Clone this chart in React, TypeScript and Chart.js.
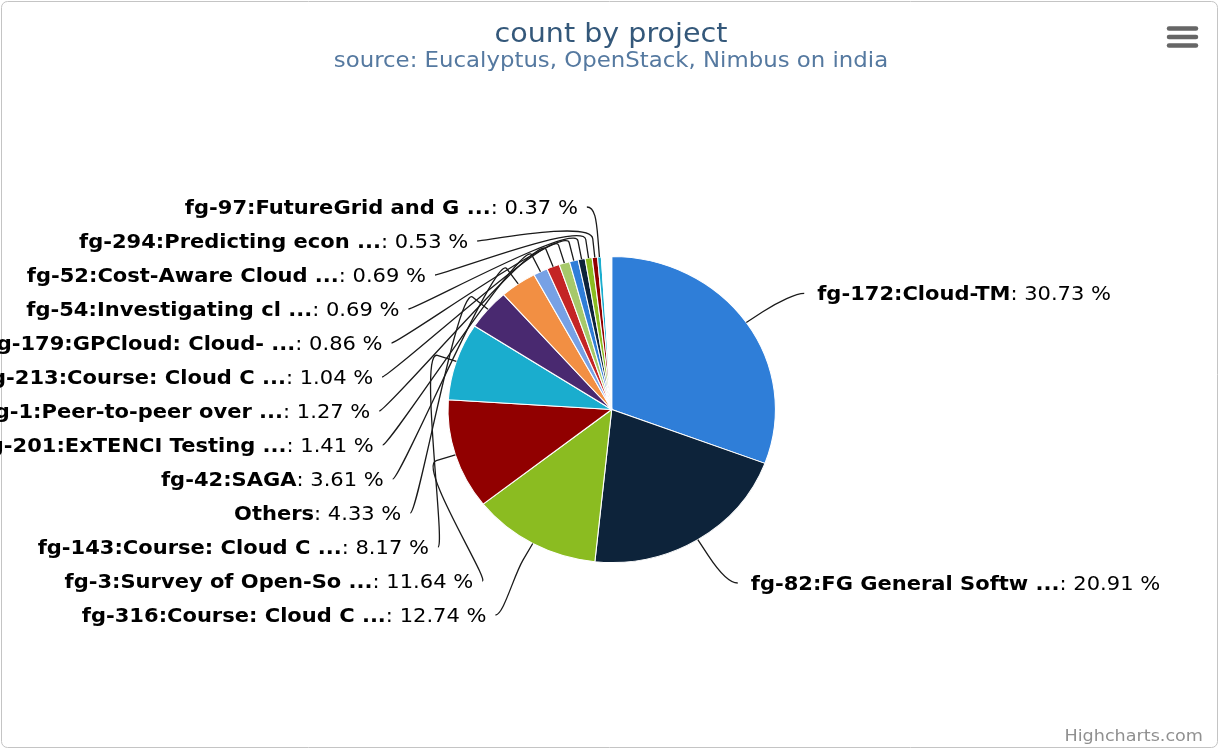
import React, { useEffect, useRef } from 'react';
import { Chart, registerables } from 'chart.js';

Chart.register(...registerables);

// ---------- data ----------
const projectNames: string[] = [
  'fg-172:Cloud-TM',
  'fg-82:FG General Softw ...',
  'fg-316:Course: Cloud C ...',
  'fg-3:Survey of Open-So ...',
  'fg-143:Course: Cloud C ...',
  'Others',
  'fg-42:SAGA',
  'fg-201:ExTENCI Testing ...',
  'fg-1:Peer-to-peer over ...',
  'fg-213:Course: Cloud C ...',
  'fg-179:GPCloud: Cloud- ...',
  'fg-54:Investigating cl ...',
  'fg-52:Cost-Aware Cloud ...',
  'fg-294:Predicting econ ...',
  'fg-97:FutureGrid and G ...',
];
const projectShares: number[] = [
  30.73, 20.91, 12.74, 11.64, 8.17, 4.33, 3.61, 1.41, 1.27, 1.04, 0.86, 0.69, 0.69, 0.53, 0.37,
];
// small unlabeled remainder visible as a white gap at the top of the pie
const unlabeledRemainder: number[] = [1.01];

const paletteColors: string[] = [
  '#2f7ed8', '#0d233a', '#8bbc21', '#910000', '#1aadce',
  '#492970', '#f28f43', '#77a1e5', '#c42525', '#a6c96a',
];
const remainderColor = '#ffffff';

const chartTitle = 'count by project';
const chartSubtitle = 'source: Eucalyptus, OpenStack, Nimbus on india';
const creditsText = 'Highcharts.com';

// ---------- styling constants ----------
const W = 1219;
const H = 749;
const PIE_CX = 611.7;
const PIE_CY = 409.5;
const PIE_R = 153;
const PIE_SX = 1.07; // horizontal stretch of the pie
const LABEL_DIST = 51;
const LABEL_SX = 1.1;
const CONNECTOR_OFFSET = 18.7;
const SLOT_GAP = 34;
const LABEL_TEXT_SX = 1.125;
const FONT = 'DejaVu Sans';
const LABEL_SIZE = 18.7;

function drawText(
  ctx: CanvasRenderingContext2D, text: string, x: number, y: number,
  font: string, color: string, align: CanvasTextAlign, sx: number
) {
  ctx.save();
  ctx.font = font;
  ctx.fillStyle = color;
  ctx.textBaseline = 'middle';
  ctx.textAlign = align;
  ctx.translate(x, y);
  ctx.scale(sx, 1);
  ctx.fillText(text, 0, 0);
  ctx.restore();
}

const decorPlugin = {
  id: 'hcDecor',
  beforeDraw(chart: any) {
    const ctx: CanvasRenderingContext2D = chart.ctx;
    ctx.save();
    ctx.fillStyle = '#ffffff';
    ctx.fillRect(0, 0, W, H);
    ctx.strokeStyle = '#c4c4c4';
    ctx.lineWidth = 1;
    ctx.beginPath();
    (ctx as any).roundRect(1.5, 1.5, W - 3, H - 3, 6);
    ctx.stroke();
    ctx.restore();
  },
  beforeDatasetsDraw(chart: any) {
    const ctx: CanvasRenderingContext2D = chart.ctx;
    const arc = chart.getDatasetMeta(0).data[0];
    ctx.save();
    ctx.translate(arc.x, arc.y);
    ctx.scale(PIE_SX, 1);
    ctx.translate(-arc.x, -arc.y);
  },
  afterDatasetsDraw(chart: any) {
    const ctx: CanvasRenderingContext2D = chart.ctx;
    ctx.restore();
    const meta = chart.getDatasetMeta(0);
    const total = (chart.data.datasets[0].data as number[]).reduce((a, b) => a + b, 0);
    type Item = { i: number; a: number; left: boolean; natY: number; y: number; cx: number; cy: number; r: number };
    const items: Item[] = [];
    meta.data.forEach((arc: any, i: number) => {
      if (i >= projectNames.length) return;
      const p = arc.getProps(['x', 'y', 'startAngle', 'endAngle', 'outerRadius'], true);
      const a = (p.startAngle + p.endAngle) / 2;
      const R = p.outerRadius + LABEL_DIST;
      items.push({
        i, a, left: Math.cos(a) < 0,
        natY: p.y + R * Math.sin(a), y: 0,
        cx: p.x, cy: p.y, r: p.outerRadius,
      });
    });
    const sides = [items.filter((d) => !d.left), items.filter((d) => d.left)];
    sides.forEach((side) => {
      if (!side.length) return;
      side.sort((u, v) => u.natY - v.natY);
      const R = side[0].r + LABEL_DIST;
      const minY = side[0].cy - R + 1.5;
      const maxY = H - 60;
      side.forEach((d, k) => {
        d.y = Math.max(d.natY, minY);
        if (k > 0) d.y = Math.max(d.y, side[k - 1].y + SLOT_GAP);
      });
      for (let k = side.length - 1; k >= 0; k--) {
        if (k === side.length - 1) side[k].y = Math.min(side[k].y, maxY);
        else side[k].y = Math.min(side[k].y, side[k + 1].y - SLOT_GAP);
      }
      side.forEach((d, k) => {
        const edge = k === 0 || k === side.length - 1;
        const yForX = edge ? d.natY : d.y;
        const Rl = d.r + LABEL_DIST;
        const dy = yForX - d.cy;
        const off = LABEL_SX * Math.sqrt(Math.max(Rl * Rl - dy * dy, 0));
        const connX = d.cx + (d.left ? -off : off);
        const y = d.y;
        const p4x = d.cx + PIE_SX * d.r * Math.cos(d.a);
        const p4y = d.cy + d.r * Math.sin(d.a);
        const p2x = d.cx + PIE_SX * (d.r + CONNECTOR_OFFSET) * Math.cos(d.a);
        const p2y = d.cy + (d.r + CONNECTOR_OFFSET) * Math.sin(d.a);
        ctx.save();
        ctx.strokeStyle = '#1a1a1a';
        ctx.lineWidth = 1.3;
        ctx.beginPath();
        ctx.moveTo(connX + (d.left ? -8 : 8), y);
        ctx.bezierCurveTo(connX, y, 2 * p2x - p4x, 2 * p2y - p4y, p2x, p2y);
        ctx.lineTo(p4x, p4y);
        ctx.stroke();
        ctx.restore();

        const name = projectNames[d.i];
        const pct = ': ' + ((projectShares[d.i] / total) * 100).toFixed(2) + ' %';
        const boldFont = `bold ${LABEL_SIZE}px "${FONT}"`;
        const normFont = `${LABEL_SIZE}px "${FONT}"`;
        ctx.save();
        ctx.font = boldFont;
        const w1 = ctx.measureText(name).width * LABEL_TEXT_SX;
        ctx.font = normFont;
        const w2 = ctx.measureText(pct).width * LABEL_TEXT_SX;
        ctx.restore();
        const startX = d.left ? connX - 17 - (w1 + w2) : connX + 21;
        drawText(ctx, name, startX, y + 2, boldFont, '#000000', 'left', LABEL_TEXT_SX);
        drawText(ctx, pct, startX + w1, y + 2, normFont, '#000000', 'left', LABEL_TEXT_SX);
      });
    });
  },
  afterDraw(chart: any) {
    const ctx: CanvasRenderingContext2D = chart.ctx;
    drawText(ctx, chartTitle, 611, 35, `27.2px "${FONT}"`, '#34587a', 'center', 1.05);
    drawText(ctx, chartSubtitle, 611, 62, `20.4px "${FONT}"`, '#5579a0', 'center', 1.12);
    drawText(ctx, creditsText, 1203, 737, `16px "${FONT}"`, '#909090', 'right', 1.1);
    // export menu icon
    ctx.save();
    ctx.strokeStyle = '#666666';
    ctx.lineWidth = 4.5;
    ctx.lineCap = 'round';
    [28.5, 37, 45.5].forEach((yy) => {
      ctx.beginPath();
      ctx.moveTo(1169, yy);
      ctx.lineTo(1196, yy);
      ctx.stroke();
    });
    ctx.restore();
  },
};

export default function App() {
  const ref = useRef<HTMLCanvasElement | null>(null);
  useEffect(() => {
    if (!ref.current) return;
    const values = [...projectShares, ...unlabeledRemainder];
    const colors = [
      ...projectShares.map((_, i) => paletteColors[i % paletteColors.length]),
      remainderColor,
    ];
    const chart = new Chart(ref.current, {
      type: 'pie',
      data: {
        labels: [...projectNames, ''],
        datasets: [{
          data: values,
          backgroundColor: colors,
          borderColor: '#ffffff',
          borderWidth: 1,
        }],
      },
      options: {
        responsive: false,
        animation: false,
        events: [],
        radius: PIE_R,
        layout: {
          padding: {
            left: 400,
            right: W - 2 * PIE_CX + 400,
            top: 250,
            bottom: H - 2 * PIE_CY + 250,
          },
        },
        plugins: {
          legend: { display: false },
          title: { display: false },
          tooltip: { enabled: false },
        },
      } as any,
      plugins: [decorPlugin],
    });
    return () => chart.destroy();
  }, []);
  return (
    <div style={{ position: 'absolute', left: 0, top: 0, width: W, height: H }}>
      <canvas ref={ref} width={W} height={H} style={{ display: 'block', width: W, height: H }} />
    </div>
  );
}
